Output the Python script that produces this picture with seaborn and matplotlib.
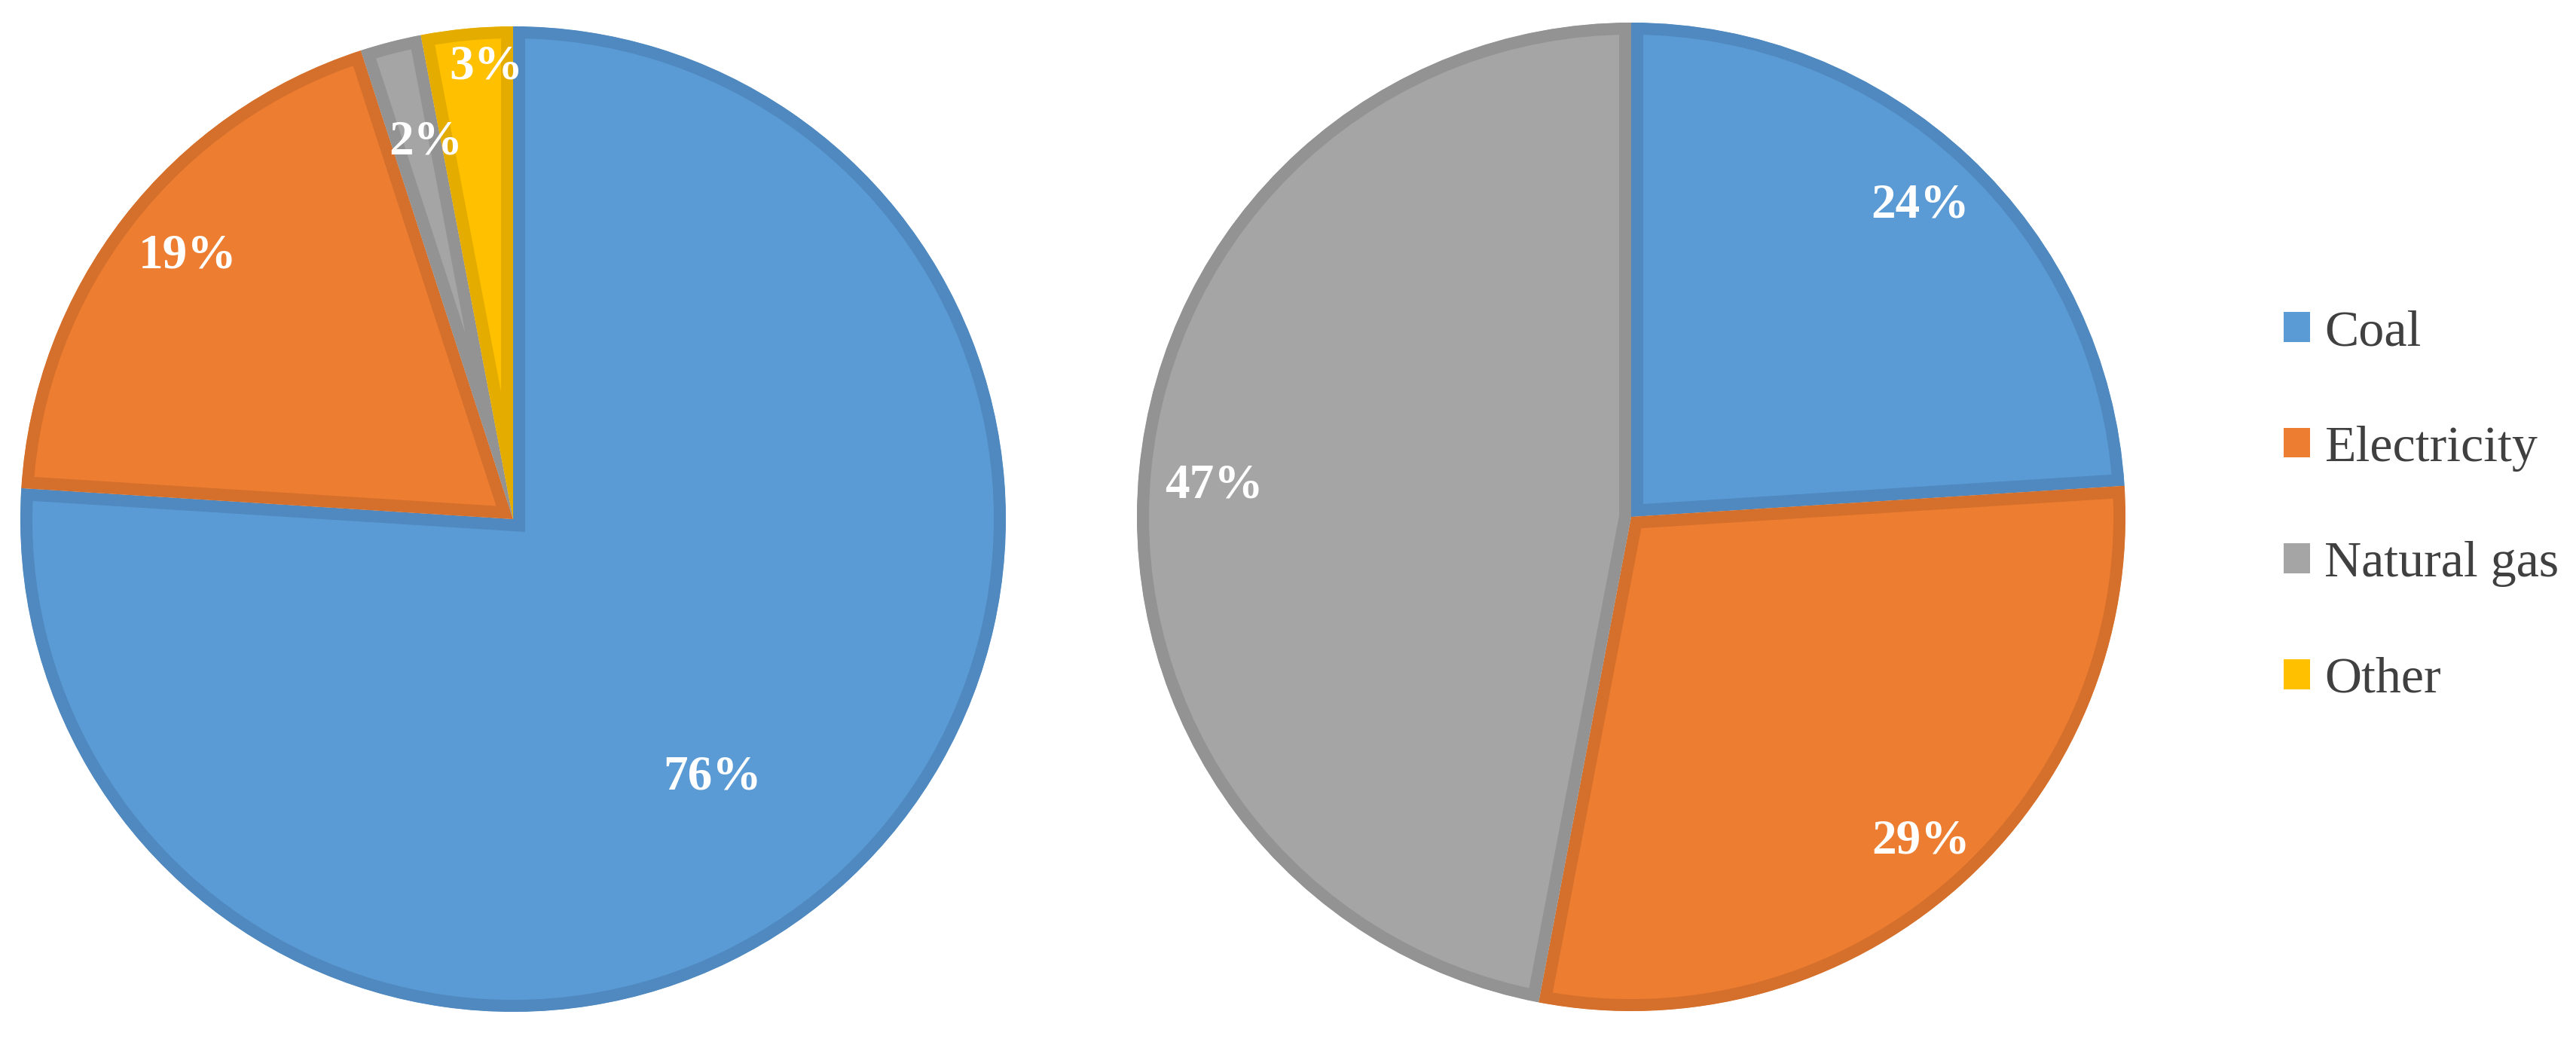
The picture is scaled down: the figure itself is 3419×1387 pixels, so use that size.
import numpy as np
import matplotlib
matplotlib.use("Agg")
import matplotlib.pyplot as plt
import seaborn as sns
from matplotlib.patches import Patch

# ---- data ----
categories = ["Coal", "Electricity", "Natural gas", "Other"]
left_values = [76, 19, 2, 3]
right_values = [24, 29, 47, 0]

# ---- style ----
sns.set_theme(style="white")
plt.rcParams['font.family'] = ['Liberation Serif', 'DejaVu Serif']

fill_colors = ["#5B9BD5", "#ED7D31", "#A5A5A5", "#FFC000"]
edge_colors = ["#4F89BF", "#D5702C", "#939393", "#E5AC00"]

W, H = 3419, 1387
fig = plt.figure(figsize=(W / 100, H / 100), dpi=100)


def add_pie(cx, cy, r, values, dists, offs):
    ax = fig.add_axes([(cx - r) / W, (H - cy - r) / H, 2 * r / W, 2 * r / H])
    idx = [i for i, v in enumerate(values) if v > 0]
    vals = [values[i] for i in idx]
    wedges, _ = ax.pie(vals, colors=[fill_colors[i] for i in idx],
                       startangle=90, counterclock=False, radius=1,
                       wedgeprops=dict(linewidth=23))
    for k, w in enumerate(wedges):
        i = idx[k]
        w.set_edgecolor(edge_colors[i])
        w.set_clip_on(True)
        w.set_clip_path(w)
        mid = np.deg2rad((w.theta1 + w.theta2) / 2 + offs[k])
        d = dists[k]
        ax.text(d * np.cos(mid), d * np.sin(mid), f"{vals[k]}%",
                ha="center", va="center", color="white",
                fontsize=47, fontweight="bold")
    ax.set_xlim(-1.01, 1.01)
    ax.set_ylim(-1.01, 1.01)
    ax.set_aspect("equal")
    ax.axis("off")
    return ax


add_pie(681, 689, 654 * 1.01, left_values, [0.662, 0.85, 0.786, 0.92], [-5.5, -1.2, -1.4, -2.0])
add_pie(2165, 686, 656 * 1.01, right_values, [0.86, 0.88, 0.846], [0.4, 0.4, 1.1])

handles = [Patch(facecolor=c, edgecolor="none") for c in fill_colors]
leg = fig.legend(handles, categories, loc="center left",
                 bbox_to_anchor=(3031 / W, (H - 672) / H),
                 frameon=False, fontsize=49, handlelength=0.52, handleheight=0.52,
                 handletextpad=0.28, labelspacing=1.36, borderpad=0, borderaxespad=0)
for t in leg.get_texts():
    t.set_color("#404040")

fig.savefig("out.png", dpi=100, facecolor="white")
